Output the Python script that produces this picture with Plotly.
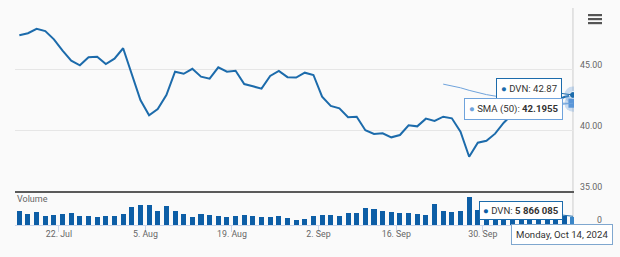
import pandas as pd
import plotly.graph_objects as go

# ---------------- data ----------------
dates = [d for d in pd.bdate_range("2024-07-15", "2024-10-14") if d != pd.Timestamp("2024-09-02")]

price = [47.76, 47.93, 48.30, 48.11, 47.43, 46.50, 45.68, 45.30, 45.96, 46.01,
         45.41, 45.85, 46.70, 44.65, 42.46, 41.20, 41.72, 42.87, 44.78, 44.61,
         45.02, 44.37, 44.21, 45.14, 44.78, 44.86, 43.77, 43.58, 43.39, 44.43,
         44.84, 44.33, 44.30, 44.70, 44.51, 42.73, 41.97, 41.78, 41.04, 41.09,
         39.98, 39.67, 39.73, 39.40, 39.59, 40.38, 40.30, 40.93, 40.75, 41.09,
         40.96, 39.86, 37.81, 38.96, 39.12, 39.70, 40.60, 41.30, 41.90, 42.30,
         42.10, 42.60, 42.40, 42.70, 42.87]

sma50 = [None] * 49 + [43.76, 43.62, 43.46, 43.25, 43.07, 42.90, 42.78, 42.67,
                       42.60, 42.51, 42.44, 42.38, 42.31, 42.23, 42.19, 42.1955]

volume = [9440000, 7410000, 8960000, 6070000, 6740000, 7410000, 8090000, 6270000, 6070000, 5860000,
          6070000, 6540000, 7890000, 12600000, 13480000, 13480000, 9440000, 13010000, 9910000, 7410000,
          5860000, 7890000, 6740000, 6270000, 5860000, 6270000, 7210000, 6070000, 5590000, 5860000,
          6270000, 4720000, 3710000, 4520000, 6270000, 6940000, 7210000, 6270000, 8560000, 8560000,
          11660000, 10780000, 9440000, 8960000, 8560000, 8090000, 7620000, 7210000, 14360000, 9910000,
          8960000, 9910000, 18870000, 10500000, 9200000, 8400000, 9000000, 7800000, 8100000, 7500000,
          6900000, 7200000, 6600000, 6270000, 5866085]

tick_dates = ["2024-07-22", "2024-08-05", "2024-08-19", "2024-09-02", "2024-09-16", "2024-09-30"]
tick_labels = ["22. Jul", "5. Aug", "19. Aug", "2. Sep", "16. Sep", "30. Sep"]

price_ticks = [35, 40, 45, 50]
price_tick_labels = ["35.00", "40.00", "45.00", ""]
volume_ticks = [0]
volume_tick_labels = ["0"]

# ---------------- styling ----------------
BG = "#fafafa"
LINE = "#1c6bab"
BAR = "#0d5ea6"
BAR_HOVER = "#3a86c8"
SMA = "#6fa3dc"
FONT = "Roboto"
GREY = "#666666"
AXIS_FS = 8.8
TIP_FS = 9.6

x = list(range(len(dates)))
last = x[-1]
tick_pos = []
for td in tick_dates:
    t = pd.Timestamp(td)
    idx = next(i for i, d in enumerate(dates) if d >= t)
    tick_pos.append(idx - 0.42)

fig = go.Figure()

fig.add_trace(go.Bar(x=x, y=volume, xaxis="x", yaxis="y2", width=0.58,
                     marker=dict(color=[BAR] * (len(x) - 1) + [BAR_HOVER], line=dict(width=0)),
                     hoverinfo="skip", showlegend=False))
fig.add_trace(go.Scatter(x=x, y=sma50, xaxis="x2", yaxis="y", mode="lines",
                         line=dict(color=SMA, width=1), hoverinfo="skip", showlegend=False))
fig.add_trace(go.Scatter(x=x, y=price, xaxis="x2", yaxis="y", mode="lines",
                         line=dict(color=LINE, width=2), hoverinfo="skip", showlegend=False))
# hover-state markers on the last point
fig.add_trace(go.Scatter(x=[last, last], y=[price[-1], sma50[-1]], xaxis="x2", yaxis="y", mode="markers",
                         marker=dict(size=17, color="rgba(111,163,220,0.35)"), hoverinfo="skip", showlegend=False))
fig.add_trace(go.Scatter(x=[last], y=[price[-1]], xaxis="x2", yaxis="y", mode="markers",
                         marker=dict(size=7, color=LINE, line=dict(color="white", width=1)),
                         hoverinfo="skip", showlegend=False))
fig.add_trace(go.Scatter(x=[last], y=[sma50[-1]], xaxis="x2", yaxis="y", mode="markers",
                         marker=dict(size=9, symbol="square", color="#5a96d8"),
                         hoverinfo="skip", showlegend=False))

L, R, T, B = 15, 12, 8, 32
W, H = 620, 257
pw, ph = W - L - R, H - T - B


def px(xp):
    return (xp - L) / pw


def py(yp):
    return (H - B - yp) / ph


xdom = [0, px(574)]

fig.update_layout(
    width=W, height=H,
    margin=dict(l=L, r=R, t=T, b=B),
    paper_bgcolor=BG, plot_bgcolor=BG,
    font=dict(family=FONT, size=AXIS_FS, color=GREY),
    showlegend=False,
    bargap=0,
    xaxis=dict(domain=xdom, range=[-0.5, last + 0.12], anchor="y2",
               tickmode="array", tickvals=tick_pos, ticktext=tick_labels,
               ticks="outside", ticklen=6, tickcolor="#ccd6eb", ticklabelstandoff=-6,
               showline=True, linecolor="#ccd6eb", linewidth=1,
               showgrid=False, zeroline=False,
               tickfont=dict(family=FONT, size=AXIS_FS, color=GREY)),
    xaxis2=dict(domain=xdom, matches="x", anchor="y", showticklabels=False,
                showline=True, linecolor="#5a5a5a", linewidth=2,
                showgrid=False, zeroline=False, ticks=""),
    yaxis=dict(domain=[py(191), 1], range=[35, 50], side="right", anchor="free",
               position=px(579),
               tickmode="array", tickvals=price_ticks, ticktext=price_tick_labels,
               showgrid=True, gridcolor="#e6e6e6", gridwidth=1,
               zeroline=False, ticks="", showline=False, ticklabelshift=-4,
               tickfont=dict(family=FONT, size=AXIS_FS, color=GREY)),
    yaxis2=dict(domain=[0, py(194.6)], range=[0, 20.5e6], side="right", anchor="free",
                position=px(596),
                tickmode="array", tickvals=volume_ticks, ticktext=volume_tick_labels,
                showgrid=False, zeroline=False, ticks="", showline=False, ticklabelshift=-5,
                tickfont=dict(family=FONT, size=AXIS_FS, color=GREY)),
)

shapes = [
    dict(type="line", xref="x", x0=last, x1=last, yref="paper", y0=0, y1=1,
         line=dict(color="#cccccc", width=1), layer="below"),
]
for y0, y1 in [(14, 16.2), (18, 20.2), (22, 24.2)]:
    shapes.append(dict(type="rect", xref="paper", yref="paper",
                       x0=px(588), x1=px(602), y0=py(y1), y1=py(y0),
                       fillcolor="#555555", line=dict(width=0)))
fig.update_layout(shapes=shapes)

tip_font = dict(family=FONT, size=TIP_FS, color="#333333")
annotations = [
    dict(x=0, xref="paper", y=py(199), yref="paper", xanchor="left", yanchor="middle",
         text="Volume", showarrow=False, font=dict(family=FONT, size=9, color=GREY)),
    dict(x=last, y=price[-1], xref="x2", yref="y",
         text=f"<span style='color:{LINE}'>●</span> DVN: {price[-1]:.2f}",
         showarrow=True, ax=-44, ay=-6, arrowhead=0, arrowwidth=1, arrowcolor=LINE, standoff=0,
         bgcolor="white", bordercolor=LINE, borderwidth=1, borderpad=4, font=tip_font),
    dict(x=last, y=sma50[-1], xref="x2", yref="y",
         text=f"<span style='color:{SMA}'>●</span> SMA (50): <b>{sma50[-1]:.4f}</b>",
         showarrow=True, ax=-59, ay=6, arrowhead=0, arrowwidth=1, arrowcolor=SMA, standoff=0,
         bgcolor="white", bordercolor=SMA, borderwidth=1, borderpad=4, font=tip_font),
    dict(x=last, y=volume[-1], xref="x", yref="y2",
         text=f"<span style='color:{BAR}'>●</span> DVN: <b>{volume[-1]:,}</b>".replace(",", " "),
         showarrow=True, ax=-52, ay=-6, arrowhead=0, arrowwidth=1, arrowcolor=LINE, standoff=0,
         bgcolor="white", bordercolor=LINE, borderwidth=1, borderpad=3, font=tip_font),
    dict(x=last, y=0, xref="x", yref="paper", xanchor="center", yanchor="top",
         xshift=-11, yshift=1,
         text=dates[-1].strftime("%A, %b %d, %Y"), showarrow=False,
         bgcolor="white", bordercolor="#7fa7cf", borderwidth=1, borderpad=4, font=tip_font),
]
fig.update_layout(annotations=annotations)

fig.write_html("out.html")
